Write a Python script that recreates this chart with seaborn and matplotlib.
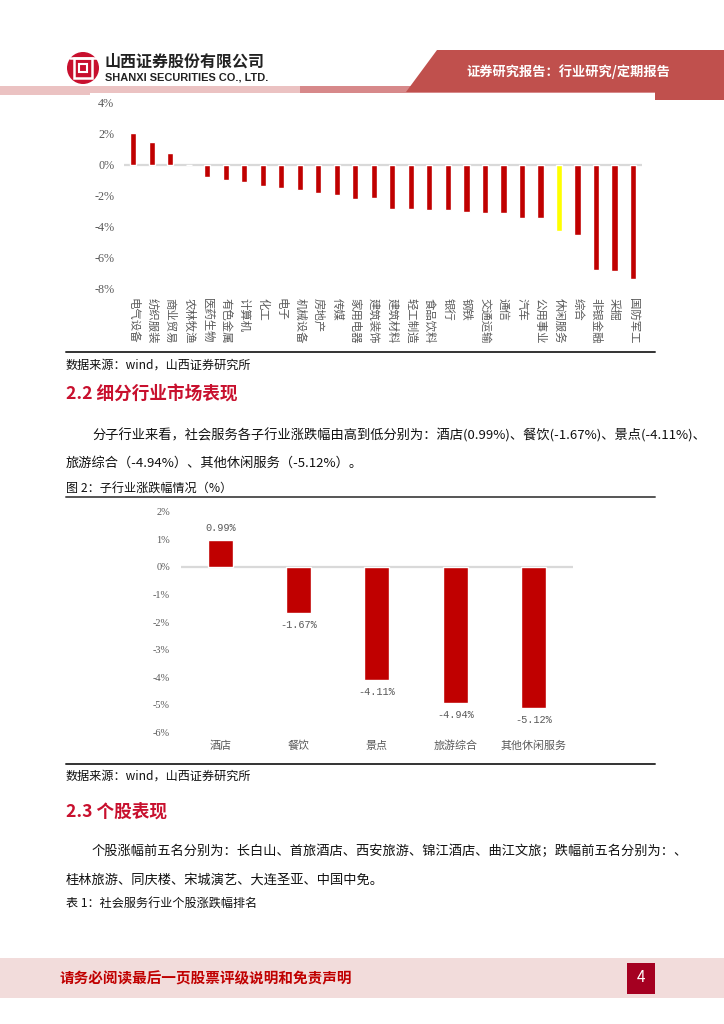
"""Report page: industry returns bar chart + sub-industry returns bar chart."""

import matplotlib

matplotlib.use("Agg")
import matplotlib.pyplot as plt  # noqa: E402
import matplotlib.patches as mpatches  # noqa: E402
import pandas as pd  # noqa: E402
import seaborn as sns  # noqa: E402

W, H = 724, 1024

# ---- data -----------------------------------------------------------------
INDUSTRIES = ["电气设备", "纺织服装", "商业贸易", "农林牧渔", "医药生物", "有色金属",
              "计算机", "化工", "电子", "机械设备", "房地产", "传媒", "家用电器",
              "建筑装饰", "建筑材料", "轻工制造", "食品饮料", "银行", "钢铁",
              "交通运输", "通信", "汽车", "公用事业", "休闲服务", "综合",
              "非银金融", "采掘", "国防军工"]
IND_RETURNS = [2.07, 1.49, 0.75, 0.0, -0.78, -0.97, -1.10, -1.40, -1.49, -1.64,
               -1.81, -2.00, -2.24, -2.18, -2.87, -2.89, -2.91, -2.93, -3.08,
               -3.13, -3.13, -3.45, -3.45, -4.27, -4.57, -6.81, -6.85, -7.41]
HIGHLIGHT = "休闲服务"

SUB_INDUSTRIES = ["酒店", "餐饮", "景点", "旅游综合", "其他休闲服务"]
SUB_RETURNS = [0.99, -1.67, -4.11, -4.94, -5.12]

RED = "#C00000"
YELLOW = "#FFFF00"
GRID = "#D9D9D9"
TICK = "#595959"
TITLE_RED = "#C8102E"

sns.set_theme(style="white")
plt.rcParams["font.family"] = ["Noto Sans CJK SC", "DejaVu Sans"]


def rect(x0, y0, x1, y1):
    """Pixel box (top-left origin) -> figure fraction."""
    return [x0 / W, 1 - y1 / H, (x1 - x0) / W, (y1 - y0) / H]


fig = plt.figure(figsize=(W / 100, H / 100), dpi=100, facecolor="white")

# ---- page background / decorations ---------------------------------------
bg = fig.add_axes([0, 0, 1, 1], zorder=0)
bg.set_xlim(0, W); bg.set_ylim(H, 0); bg.axis("off")

# header strip + banner
bg.add_patch(mpatches.Rectangle((0, 86), W, 9, color="#D7898A", lw=0))
bg.add_patch(mpatches.Rectangle((0, 86), 300, 9, color="#EBC2C2", lw=0))
bg.add_patch(mpatches.Polygon([(437, 50), (W, 50), (W, 100), (655, 100), (655, 92), (406, 92)],
                              closed=True, color="#C0504D", lw=0))
bg.add_patch(mpatches.Rectangle((90, 93), 565, 10, color="white", lw=0))
bg.text(568, 72, "证券研究报告：行业研究/定期报告", color="white", fontsize=9.5,
        fontweight="bold", ha="center", va="center")

# logo
bg.add_patch(mpatches.Circle((83, 68), 16, color="#C8102E", lw=0))
bg.add_patch(mpatches.Rectangle((74, 58), 18, 20, fill=False, ec="white", lw=1.8))
bg.add_patch(mpatches.Rectangle((79, 64), 8, 8, fill=False, ec="white", lw=1.5))
bg.plot([70, 96], [58, 58], color="white", lw=1.8)
bg.text(105, 62, "山西证券股份有限公司", fontsize=11.5, fontweight="bold",
        color="#222222", va="center")
bg.text(105, 78, "SHANXI SECURITIES CO., LTD.", fontsize=7.9, fontweight="bold",
        color="#222222", va="center", family=["Liberation Sans"])

# section texts
BODY = 9.5
SMALL = 8.7
bg.plot([66, 655], [352, 352], color="#333333", lw=1.4)
bg.text(66, 365, "数据来源：wind，山西证券研究所", fontsize=SMALL, va="center", color="#111111")
bg.text(66, 394, "2.2 细分行业市场表现", fontsize=12.7, fontweight="bold",
        color=TITLE_RED, va="center")
bg.text(92, 435, "分子行业来看，社会服务各子行业涨跌幅由高到低分别为：酒店(0.99%)、餐饮(-1.67%)、景点(-4.11%)、",
        fontsize=BODY, va="center", color="#111111")
bg.text(66, 463, "旅游综合（-4.94%）、其他休闲服务（-5.12%）。", fontsize=BODY,
        va="center", color="#111111")
bg.text(66, 488, "图 2：子行业涨跌幅情况（%）", fontsize=SMALL, va="center", color="#111111")
bg.plot([66, 655], [497, 497], color="#555555", lw=1.4)

bg.plot([66, 655], [764, 764], color="#333333", lw=1.4)
bg.text(66, 776, "数据来源：wind，山西证券研究所", fontsize=SMALL, va="center", color="#111111")
bg.text(66, 812, "2.3 个股表现", fontsize=12.7, fontweight="bold",
        color=TITLE_RED, va="center")
bg.text(92, 851, "个股涨幅前五名分别为：长白山、首旅酒店、西安旅游、锦江酒店、曲江文旅；跌幅前五名分别为：、",
        fontsize=BODY, va="center", color="#111111")
bg.text(66, 880, "桂林旅游、同庆楼、宋城演艺、大连圣亚、中国中免。", fontsize=BODY,
        va="center", color="#111111")
bg.text(66, 903, "表 1：社会服务行业个股涨跌幅排名", fontsize=SMALL, va="center", color="#111111")

# footer
bg.add_patch(mpatches.Rectangle((0, 958), W, 40, color="#F2DCDB", lw=0))
bg.text(60, 978, "请务必阅读最后一页股票评级说明和免责声明", fontsize=10.5,
        fontweight="bold", color="#C00000", va="center", style="italic")
bg.add_patch(mpatches.Rectangle((627, 963), 28, 31, color="#A50021", lw=0))
bg.text(641, 978, "4", fontsize=11, color="white", ha="center", va="center")

# ---- chart 1: industry returns ------------------------------------------
df1 = pd.DataFrame({"industry": INDUSTRIES, "ret": IND_RETURNS})
pal1 = {k: (YELLOW if k == HIGHLIGHT else RED) for k in INDUSTRIES}
ax1 = fig.add_axes(rect(124.0, 102.7, 642.3, 288.3), zorder=1)
ax1.axhline(0, color=GRID, lw=1.6, zorder=0)
sns.barplot(data=df1, x="industry", y="ret", hue="industry", palette=pal1,
            legend=False, width=0.33, ax=ax1, saturation=1, zorder=2)
ax1.set_xlim(-0.5, len(INDUSTRIES) - 0.5)
ax1.set_ylim(-8, 4)
ax1.set_yticks(range(-8, 5, 2))
ax1.set_yticklabels([f"{v}%" for v in range(-8, 5, 2)], family=["Liberation Serif"],
                    fontsize=8.7, color=TICK)
ax1.set_xticks(range(len(INDUSTRIES)))
ax1.set_xticklabels(INDUSTRIES, rotation=270, ha="center", va="top",
                    fontsize=8.2, color=TICK)
ax1.tick_params(axis="y", length=0, pad=7)
ax1.tick_params(axis="x", length=0, pad=7)
ax1.set_xlabel(""); ax1.set_ylabel("")
sns.despine(ax=ax1, left=True, bottom=True)
ax1.patch.set_alpha(0)

# ---- chart 2: sub-industry returns --------------------------------------
df2 = pd.DataFrame({"sub": SUB_INDUSTRIES, "ret": SUB_RETURNS})
ax2 = fig.add_axes(rect(181.2, 511.7, 572.7, 732.3), zorder=1)
ax2.axhline(0, color=GRID, lw=1.6, zorder=0)
sns.barplot(data=df2, x="sub", y="ret", color=RED, width=0.32, ax=ax2,
            saturation=1, zorder=2)
for i, v in enumerate(SUB_RETURNS):
    ax2.annotate(f"{v:.2f}%", (i, v), xytext=(0, 5 if v > 0 else -5),
                 textcoords="offset points", ha="center",
                 va="bottom" if v > 0 else "top", fontsize=7.4, color=TICK,
                 family=["Liberation Mono"])
ax2.set_xlim(-0.5, len(SUB_INDUSTRIES) - 0.5)
ax2.set_ylim(-6, 2)
ax2.set_yticks(range(-6, 3))
ax2.set_yticklabels([f"{v}%" for v in range(-6, 3)], family=["Liberation Serif"],
                    fontsize=7.4, color=TICK)
ax2.set_xticklabels(SUB_INDUSTRIES, fontsize=7.9, color=TICK)
ax2.tick_params(axis="y", length=0, pad=8)
ax2.tick_params(axis="x", length=0, pad=6)
ax2.set_xlabel(""); ax2.set_ylabel("")
sns.despine(ax=ax2, left=True, bottom=True)
ax2.patch.set_alpha(0)

fig.savefig("out.png", dpi=100)
plt.close(fig)
